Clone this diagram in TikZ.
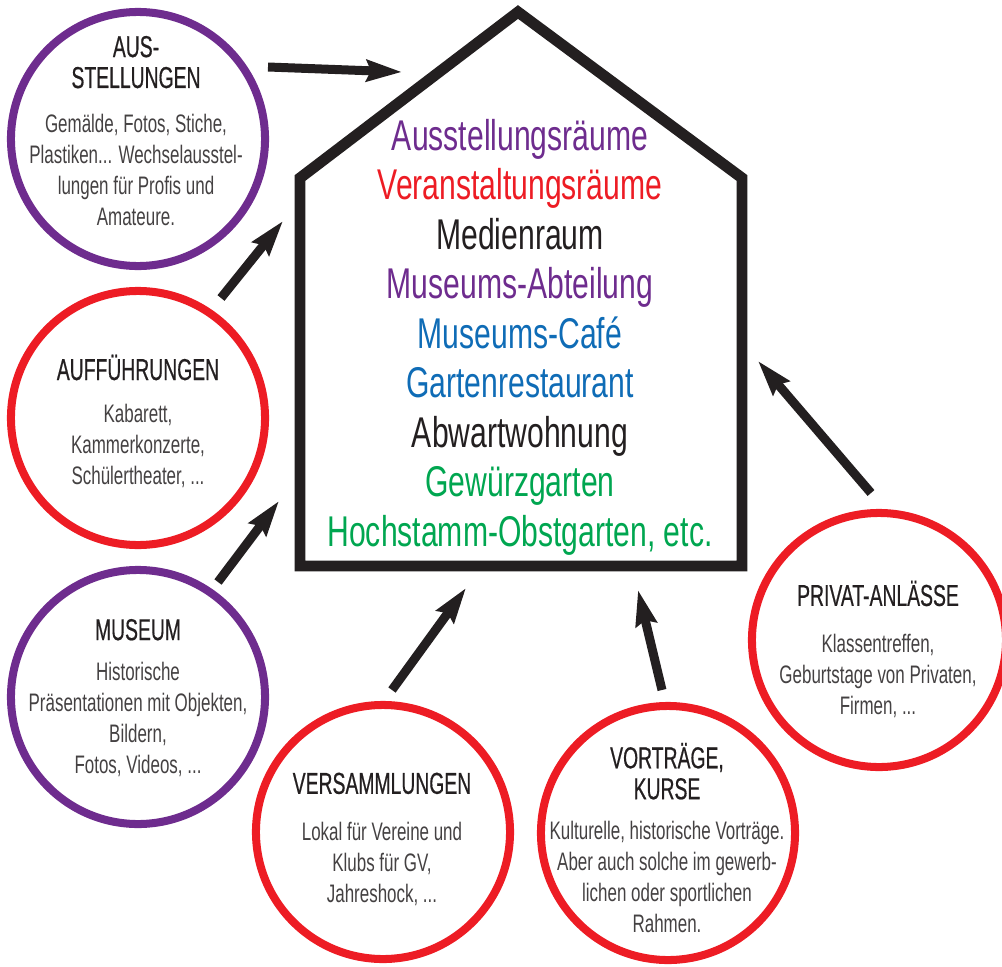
\documentclass[tikz,border=0pt]{standalone}
\usepackage{fontspec}
\setmainfont{Liberation Sans}[FakeStretch=0.7]
\newfontfamily\headfont{Liberation Sans}[FakeStretch=0.64,FakeBold=0.5]
\newfontfamily\bodyfont{Liberation Sans}[FakeStretch=0.67]
\usetikzlibrary{arrows.meta}
\definecolor{purp}{HTML}{6E2C8E}
\definecolor{rd}{HTML}{ED1C24}
\definecolor{blu}{HTML}{0F6CB6}
\definecolor{grn}{HTML}{00A650}
\definecolor{ink}{HTML}{231F20}
\newcommand{\hd}[1]{{\headfont\color{ink}\fontsize{21.5}{22}\selectfont #1}}
\begin{document}
\begin{tikzpicture}[x=0.025cm,y=-0.025cm,
    ring/.style={circle,draw=#1,line width=5.7pt,minimum size=6.35cm,inner sep=0pt},
    txt/.style={align=center,text=ink!85,font=\bodyfont\fontsize{18}{22}\selectfont,inner sep=0pt},
    rooms/.style={align=center,font=\fontsize{30.6}{35.2}\selectfont,inner sep=0pt},
    arr/.style={-{Stealth[length=25pt,width=15pt,inset=3pt]},line width=6.4pt,draw=ink}]
  \useasboundingbox (0,0) rectangle (1002,967);
  \draw[ink,line width=7.8pt,line join=miter] (300,566) -- (300,178) -- (518,12) -- (742,178) -- (742,566) -- cycle;
  \node[rooms] (list) at (520,337) {%
    \textcolor{purp}{Ausstellungsräume}\\
    \textcolor{rd}{Veranstaltungsräume}\\
    \textcolor{ink}{Medienraum}\\
    \textcolor{purp}{Museums-Abteilung}\\
    \textcolor{blu}{Museums-Café}\\
    \textcolor{blu}{Gartenrestaurant}\\
    \textcolor{ink}{Abwartwohnung}\\
    \textcolor{grn}{Gewürzgarten}\\
    \textcolor{grn}{Hochstamm-Obstgarten, etc.}};
  \node[ring=purp] (aus) at (138,139) {};
  \node[ring=rd] (auf) at (138,418) {};
  \node[ring=purp] (mus) at (138,697) {};
  \node[ring=rd] (ver) at (383,832) {};
  \node[ring=rd] (vor) at (668,833) {};
  \node[ring=rd] (pri) at (879,640) {};
  \node[txt] (ausT) at (136,131) {\hd{AUS-}\\ \hd{STELLUNGEN}\\[10pt]
    Gemälde, Fotos, Stiche,\\ Plastiken... Wechselausstel-\\ lungen für Profis und\\ Amateure.};
  \node[txt] (aufT) at (138,421) {\hd{AUFFÜHRUNGEN}\\[8pt]
    Kabarett,\\ Kammerkonzerte,\\ Schülertheater, ...};
  \node[txt] (musT) at (138,698) {\hd{MUSEUM}\\[7pt]
    Historische\\ Präsentationen mit Objekten,\\ Bildern,\\ Fotos, Videos, ...};
  \node[txt] (verT) at (382,839) {\hd{VERSAMMLUNGEN}\\[11pt]
    Lokal für Vereine und\\ Klubs für GV,\\ Jahreshock, ...};
  \node[txt] (vorT) at (667,838) {\hd{VORTRÄGE,}\\ \hd{KURSE}\\[7pt]
    Kulturelle, historische Vorträge.\\ Aber auch solche im gewerb-\\ lichen oder sportlichen\\ Rahmen.};
  \node[txt] (priT) at (878,649) {\hd{PRIVAT-ANLÄSSE}\\[11pt]
    Klassentreffen,\\ Geburtstage von Privaten,\\ Firmen, ...};
  \coordinate (a1) at (268,67);  \coordinate (b1) at (402,72);
  \coordinate (a2) at (221,298); \coordinate (b2) at (283,221);
  \coordinate (a3) at (218,582); \coordinate (b3) at (279,501);
  \coordinate (a4) at (392,690); \coordinate (b4) at (466,588);
  \coordinate (a5) at (662,690); \coordinate (b5) at (638,590);
  \coordinate (a6) at (871,493); \coordinate (b6) at (758,361);
  \begin{scope}[arr]
    \draw (a1) -- (b1);
    \draw (a2) -- (b2);
    \draw (a3) -- (b3);
    \draw (a4) -- (b4);
    \draw (a5) -- (b5);
    \draw (a6) -- (b6);
  \end{scope}
\end{tikzpicture}
\end{document}
